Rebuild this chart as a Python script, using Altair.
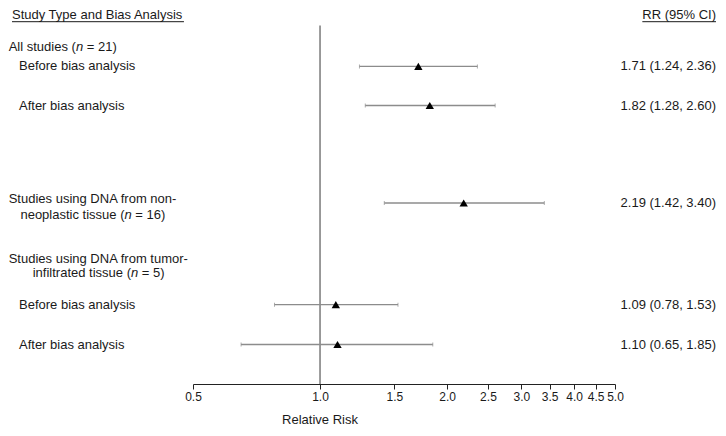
import altair as alt
import pandas as pd

# ---------------- data ----------------
header_left = "Study Type and Bias Analysis"
header_right = "RR (95% CI)"
axis_title = "Relative Risk"
group_lines = [
    [[("All studies (", False), ("n", True), (" = 21)", False)]],
    [[("Studies using DNA from non-", False)],
     [("neoplastic tissue (", False), ("n", True), (" = 16)", False)]],
    [[("Studies using DNA from tumor-", False)],
     [("infiltrated tissue (", False), ("n", True), (" = 5)", False)]],
]
row_labels = ["Before bias analysis", "After bias analysis", "",
              "Before bias analysis", "After bias analysis"]
rr = [1.71, 1.82, 2.19, 1.09, 1.10]
ci_low = [1.24, 1.28, 1.42, 0.78, 0.65]
ci_high = [2.36, 2.60, 3.40, 1.53, 1.85]
tick_values = [0.5, 1.0, 1.5, 2.0, 2.5, 3.0, 3.5, 4.0, 4.5, 5.0]
ref_value = 1.0

# ---------------- layout ----------------
W, H = 422, 376
PAD = {"left": 185, "top": 0, "right": 103, "bottom": 44}
row_y = [58.4, 97.5, 195.0, 296.7, 336.5]
group_y = [[39.3], [191.2, 206.6], [250.5, 264.5]]
header_y = 7.2
vline_top = 17.4
label_left = -184.3
indent_left = -174.0
header_left_x = -181.0
rr_right_x = 523.0
title_y = H + 36
FONT = "Liberation Sans"
FS = 13
TXT = "#1a1a1a"

AW = {' ': 278, '(': 333, ')': 333, '-': 333, '=': 584, '.': 278, ',': 278, '%': 889,
      'A': 667, 'B': 667, 'C': 722, 'D': 722, 'E': 667, 'F': 611, 'I': 278, 'N': 722,
      'R': 722, 'S': 667, 'T': 611,
      'a': 556, 'b': 556, 'c': 500, 'd': 556, 'e': 556, 'f': 278, 'g': 556, 'h': 556,
      'i': 222, 'j': 222, 'k': 500, 'l': 222, 'm': 833, 'n': 556, 'o': 556, 'p': 556,
      'r': 333, 's': 500, 't': 278, 'u': 556, 'v': 500, 'w': 722, 'x': 500, 'y': 500}


def tw(s):
    return sum(AW.get(c, 556) for c in s) * FS / 1000.0


segs = []
for lines, ys in zip(group_lines, group_y):
    widths = [sum(tw(t) for t, _ in line) for line in lines]
    block = max(widths)
    for line, y, w in zip(lines, ys, widths):
        x = label_left + ((block - w) / 2 if len(lines) > 1 else 0)
        for t, it in line:
            lead = len(t) - len(t.lstrip(" "))
            segs.append({"px": x + tw(" " * lead), "py": y, "text": t.strip(" "), "italic": it})
            x += tw(t)
for lab, y in zip(row_labels, row_y):
    if lab:
        segs.append({"px": indent_left, "py": y, "text": lab, "italic": False})
segs.append({"px": header_left_x, "py": header_y, "text": header_left, "italic": False})
seg_df = pd.DataFrame(segs)

rows = pd.DataFrame({"rr": rr, "lo": ci_low, "hi": ci_high, "py": row_y})
rows["label"] = [f"{a:.2f} ({b:.2f}, {c:.2f})" for a, b, c in zip(rr, ci_low, ci_high)]

under = pd.DataFrame({
    "x1": [header_left_x, rr_right_x - tw(header_right)],
    "x2": [header_left_x + tw(header_left), rr_right_x],
    "y": [header_y + 6.5, header_y + 6.5],
})
right_head = pd.DataFrame({"px": [rr_right_x], "py": [header_y], "text": [header_right]})

xscale = alt.Scale(type="log", domain=[0.5, 5.0], nice=False)
ynone = alt.Y("py:Q", scale=None, axis=None)

ci = alt.Chart(rows).mark_rule(color="#8c8c8c", strokeWidth=1.3).encode(
    x=alt.X("lo:Q", scale=xscale,
            axis=alt.Axis(values=tick_values, format=".1f", title=None, grid=False,
                          tickSize=5, labelPadding=2, labelFont=FONT, labelFontSize=12,
                          labelColor=TXT, domainColor="#222", tickColor="#222",
                          labelOverlap=False, labelFlush=False)),
    x2="hi:Q", y=ynone)
cap_lo = alt.Chart(rows).mark_tick(orient="vertical", size=4, thickness=1, color="#8c8c8c").encode(
    x=alt.X("lo:Q", scale=xscale, axis=None), y=ynone)
cap_hi = alt.Chart(rows).mark_tick(orient="vertical", size=4, thickness=1, color="#8c8c8c").encode(
    x=alt.X("hi:Q", scale=xscale, axis=None), y=ynone)
pts = alt.Chart(rows).mark_point(shape="triangle-up", filled=True, size=70, color="black",
                                 opacity=1).encode(
    x=alt.X("rr:Q", scale=xscale, axis=None), y=ynone)

vline = alt.Chart(pd.DataFrame({"v": [ref_value], "py": [vline_top], "py2": [H]})).mark_rule(
    color="#7a7a7a", strokeWidth=1.5).encode(
    x=alt.X("v:Q", scale=xscale, axis=None), y=ynone, y2="py2:Q")

title = alt.Chart(pd.DataFrame({"v": [ref_value], "py": [title_y], "t": [axis_title]})).mark_text(
    font=FONT, fontSize=FS, color=TXT, baseline="middle", align="center").encode(
    x=alt.X("v:Q", scale=xscale, axis=None), y=ynone, text="t:N")

rr_text = alt.Chart(rows).mark_text(font=FONT, fontSize=FS, color=TXT, align="right",
                                    baseline="middle").encode(
    x=alt.value(rr_right_x), y=ynone, text="label:N")
rr_head = alt.Chart(right_head).mark_text(font=FONT, fontSize=FS, color=TXT, align="right",
                                          baseline="middle").encode(
    x=alt.X("px:Q", scale=None, axis=None), y=ynone, text="text:N")

normal = alt.Chart(seg_df[~seg_df["italic"]]).mark_text(
    font=FONT, fontSize=FS, color=TXT, align="left", baseline="middle").encode(
    x=alt.X("px:Q", scale=None, axis=None), y=ynone, text="text:N")
italic = alt.Chart(seg_df[seg_df["italic"]]).mark_text(
    font=FONT, fontSize=FS, color=TXT, align="left", baseline="middle", fontStyle="italic").encode(
    x=alt.X("px:Q", scale=None, axis=None), y=ynone, text="text:N")

underlines = alt.Chart(under).mark_rule(color=TXT, strokeWidth=1).encode(
    x=alt.X("x1:Q", scale=None, axis=None), x2="x2:Q",
    y=alt.Y("y:Q", scale=None, axis=None))

chart = alt.layer(vline, ci, cap_lo, cap_hi, pts, title, rr_text, rr_head, normal, italic,
                  underlines).resolve_scale(x="independent").properties(
    width=W, height=H, padding=PAD, autosize=alt.AutoSizeParams(type="none")
).configure_view(stroke=None)

chart.save("out.html", embed_options={"renderer": "svg", "actions": False})
